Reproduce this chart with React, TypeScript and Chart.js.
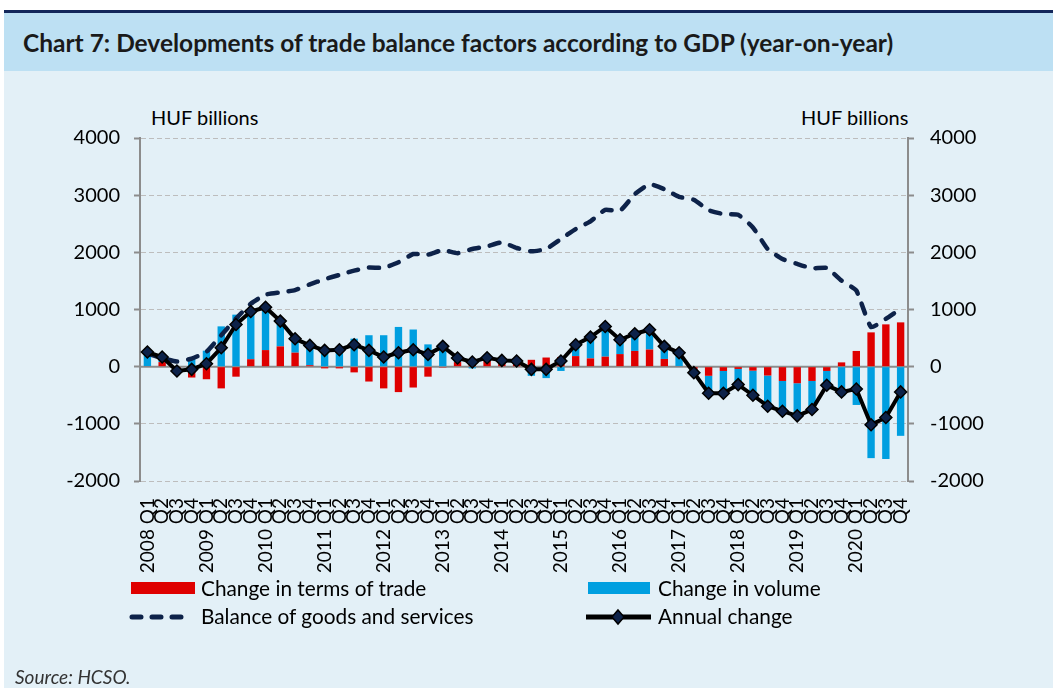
import React, { useEffect, useRef } from "react";
import { Chart, registerables } from "chart.js";

Chart.register(...registerables);

const years = ["2008","2009","2010","2011","2012","2013","2014","2015","2016","2017","2018","2019","2020"];
const quarters = ["Q1","Q2","Q3","Q4"];
const categories: string[] = [];
years.forEach((y) => quarters.forEach((q, i) => categories.push(i === 0 ? `${y} ${q}` : q)));

const termsOfTrade = [10,80,-60,-190,-220,-380,-175,130,290,355,245,25,-30,-30,-100,-260,-380,-445,-365,-175,-15,80,100,100,70,50,120,160,170,185,145,175,220,275,300,135,10,-50,-160,-75,-40,-70,-155,-250,-290,-250,-75,75,275,600,740,775];
const volume = [240,90,-20,150,280,705,910,830,750,440,245,350,315,330,490,550,550,695,650,390,370,70,-30,60,40,50,-160,-200,-75,200,370,530,250,300,345,220,235,-55,-305,-390,-275,-430,-535,-530,-570,-500,-250,-515,-670,-1600,-1615,-1210];
const balance = [230,150,90,140,260,550,840,1100,1260,1300,1340,1440,1530,1605,1680,1735,1730,1826,1970,1960,2040,1985,2058,2105,2174,2076,2017,2058,2233,2407,2541,2744,2727,3017,3192,3105,2971,2919,2738,2669,2657,2436,2058,1884,1797,1721,1727,1506,1331,692,837,1012];
const annualChange = [256,169,-76,-47,52,331,738,965,1040,797,488,372,285,297,384,285,169,244,297,215,355,151,81,157,110,99,-47,-47,99,384,517,703,471,576,645,355,244,-105,-465,-465,-314,-500,-692,-779,-860,-750,-326,-442,-390,-1017,-890,-442];

const yMin = -2000;
const yMax = 4000;
const yStep = 1000;

const RED = "#df0000";
const BLUE = "#009fe0";
const NAVY = "#0d2249";
const AXIS = "#8c8c8c";
const FONT = "Lato, 'Liberation Sans', sans-serif";

const zeroLine = {
  id: "zeroLine",
  beforeDatasetsDraw(chart: any) {
    const { ctx, chartArea, scales } = chart;
    const y = scales.y.getPixelForValue(0);
    ctx.save();
    ctx.strokeStyle = AXIS;
    ctx.lineWidth = 2;
    ctx.beginPath();
    ctx.moveTo(chartArea.left, y);
    ctx.lineTo(chartArea.right, y);
    ctx.stroke();
    ctx.restore();
  },
};

export default function App() {
  const ref = useRef<HTMLCanvasElement>(null);
  useEffect(() => {
    if (!ref.current) return;
    const yTicks = {
      stepSize: yStep,
      color: "#000",
      font: { family: FONT, size: 20 },
      callback: (v: any) => String(v),
    };
    const chart = new Chart(ref.current, {
      type: "bar",
      data: {
        labels: categories,
        datasets: [
          {
            type: "line",
            label: "Annual change",
            data: annualChange,
            yAxisID: "yL",
            borderColor: "#000",
            borderWidth: 4,
            pointStyle: "rectRot",
            pointRadius: 6,
            pointBackgroundColor: NAVY,
            pointBorderColor: "#000",
            pointBorderWidth: 1.5,
            order: 0,
          } as any,
          {
            type: "line",
            label: "Balance of goods and services",
            data: balance,
            yAxisID: "yL",
            borderColor: NAVY,
            borderWidth: 4.5,
            borderDash: [10, 11],
            borderCapStyle: "round",
            pointRadius: 0,
            tension: 0.15,
            order: 1,
          } as any,
          {
            label: "Change in terms of trade",
            data: termsOfTrade,
            backgroundColor: RED,
            yAxisID: "y",
            order: 2,
          },
          {
            label: "Change in volume",
            data: volume,
            backgroundColor: BLUE,
            yAxisID: "y",
            order: 2,
          },
        ],
      },
      options: {
        animation: false,
        responsive: false,
        maintainAspectRatio: false,
        datasets: { bar: { barPercentage: 0.5, categoryPercentage: 1 } },
        layout: { padding: { top: 138, left: 0, right: 0, bottom: 0 } },
        plugins: { legend: { display: false }, tooltip: { enabled: false } },
        scales: {
          x: {
            stacked: true,
            offset: true,
            grid: { display: false, drawTicks: false },
            border: { display: false },
            ticks: {
              autoSkip: false,
              minRotation: 90,
              maxRotation: 90,
              padding: 17,
              color: "#000",
              font: { family: FONT, size: 19 },
            },
            afterFit: (s: any) => { s.height = 207; },
          },
          y: {
            stacked: true,
            position: "left",
            min: yMin,
            max: yMax,
            ticks: { ...yTicks, padding: 14 },
            grid: {
              color: (c: any) => (c.tick && c.tick.value === 0 ? "rgba(0,0,0,0)" : "#bdbdbd"),
              lineWidth: 1,
              tickColor: AXIS,
              tickLength: 6,
              tickWidth: 2,
            },
            border: { display: true, color: AXIS, width: 2, dash: [5, 3] },
            afterFit: (s: any) => { s.width = 140; },
          },
          y1: {
            position: "right",
            min: yMin,
            max: yMax,
            ticks: { ...yTicks, padding: 16 },
            grid: { drawOnChartArea: false, tickColor: AXIS, tickLength: 6, tickWidth: 2 },
            border: { display: true, color: AXIS, width: 2 },
            afterFit: (s: any) => { s.width = 145; },
          },
          yL: {
            display: false,
            stacked: false,
            min: yMin,
            max: yMax,
          },
        },
      } as any,
      plugins: [zeroLine],
    });
    return () => chart.destroy();
  }, []);

  const abs = (o: React.CSSProperties): React.CSSProperties => ({ position: "absolute", ...o });
  const text: React.CSSProperties = { fontFamily: FONT, fontSize: 20.8, color: "#000", whiteSpace: "nowrap", lineHeight: 1 };

  return (
    <div style={abs({ left: 0, top: 0, width: 1053, height: 688, background: "#fff", overflow: "hidden" })}>
      <div style={abs({ left: 4, top: 10, width: 1049, height: 3, background: "#13275a" })} />
      <div style={abs({ left: 4, top: 13, width: 1049, height: 58, background: "#bde0f3" })} />
      <div style={abs({ left: 4, top: 71, width: 1049, height: 617, background: "#e3f0f7" })} />
      <div style={abs({ ...text, left: 23, top: 31, fontSize: 24.5, fontWeight: 700, color: "#1a1a1a" })}>
        Chart 7: Developments of trade balance factors according to GDP (year-on-year)
      </div>
      <div style={abs({ ...text, fontSize: 20, left: 151, top: 107 })}>HUF billions</div>
      <div style={abs({ ...text, fontSize: 20, left: 801, top: 107 })}>HUF billions</div>
      <canvas ref={ref} width={1053} height={688} style={abs({ left: 0, top: 0, width: 1053, height: 688 })} />
      <div style={abs({ left: 131, top: 582, width: 64, height: 12, background: RED })} />
      <div style={abs({ ...text, left: 201, top: 578 })}>Change in terms of trade</div>
      <div style={abs({ left: 588, top: 582, width: 62, height: 12, background: BLUE })} />
      <div style={abs({ ...text, left: 658, top: 578 })}>Change in volume</div>
      <svg style={abs({ left: 125, top: 606, width: 70, height: 22 })} width={70} height={22}>
        <line x1={7} y1={11} x2={65} y2={11} stroke={NAVY} strokeWidth={5} strokeDasharray="9 11" strokeLinecap="round" />
      </svg>
      <div style={abs({ ...text, left: 201, top: 606 })}>Balance of goods and services</div>
      <svg style={abs({ left: 582, top: 606, width: 74, height: 22 })} width={74} height={22}>
        <line x1={4} y1={11} x2={69} y2={11} stroke="#000" strokeWidth={5} />
        <polygon points="36,4 42,11 36,18 30,11" fill={NAVY} stroke="#000" strokeWidth={1.5} />
      </svg>
      <div style={abs({ ...text, left: 658, top: 606 })}>Annual change</div>
      <div style={abs({ ...text, left: 15, top: 667, fontSize: 19, fontStyle: "italic", color: "#333" })}>Source: HCSO.</div>
    </div>
  );
}
